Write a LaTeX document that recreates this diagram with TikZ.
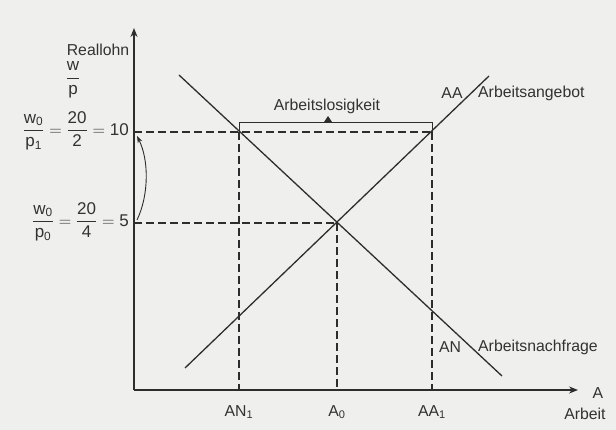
\documentclass[tikz,border=0pt]{standalone}
\usepackage{amsmath}
\usepackage{fontspec}
\setmainfont{Liberation Sans}
\usetikzlibrary{arrows.meta,calc}
\definecolor{bgc}{RGB}{239,239,237}
\definecolor{ink}{RGB}{45,45,45}
\definecolor{txt}{RGB}{50,50,50}
\newcommand\myfr[2]{\dfrac{\text{#1}}{\text{#2}}}
\tikzset{
  lbl/.style={inner sep=0pt, text=txt, font=\fontsize{15.8}{18}\selectfont},
  eqlbl/.style={inner sep=0pt, text=txt, font=\fontsize{17}{19}\selectfont},
  axisln/.style={draw=ink, line width=1.4pt, -{Stealth[length=9pt,width=7pt]}},
  curveln/.style={draw=ink, line width=1.3pt},
  dashln/.style={draw=ink, line width=1.3pt, dash pattern=on 8pt off 4pt},
  thinln/.style={draw=ink, line width=0.9pt},
}
\begin{document}
\begin{tikzpicture}[x=1pt,y=-1pt]
\fill[bgc] (0,0) rectangle (616,430);
\useasboundingbox (0,0) rectangle (616,430);
% coordinates
\coordinate (O) at (134,390);
\coordinate (Ytop) at (134,28);
\coordinate (Xend) at (578,390);
\coordinate (AAlo) at (185,368);
\coordinate (AAhi) at (489,76);
\coordinate (ANhi) at (179,75);
\coordinate (ANlo) at (502,376);
\coordinate (P1) at (239,132);
\coordinate (P2) at (432,132);
\coordinate (E) at (337,223);
\coordinate (Y10) at (134,132);
\coordinate (Y5) at (134,223);
\coordinate (X1) at (239,390);
\coordinate (X0) at (337,390);
\coordinate (X2) at (432,390);
\coordinate (B1) at (239,122);
\coordinate (B2) at (432,122);
\coordinate (T) at (328,122);
\coordinate (C1) at (137,220);
\coordinate (C2) at (137,136);
% dashed guides
\draw[dashln] (Y10) -- (P2);
\draw[dashln] (Y5) -- (E);
\draw[dashln] (P1) -- (X1);
\draw[dashln] (E) -- (X0);
\draw[dashln] (P2) -- (X2);
% bracket
\draw[thinln] (P1) -- (B1) -- (B2) -- (P2);
\fill[ink] ($(T)+(-4,0)$) -- ($(T)+(4,0)$) -- ($(T)+(0,-6)$) -- cycle;
% curves
\draw[curveln] (AAlo) -- (AAhi);
\draw[curveln] (ANhi) -- (ANlo);
% axes
\draw[axisln] (O) -- (Ytop);
\draw[axisln] (O) -- (Xend);
% curved arrow
\draw[draw=ink, line width=0.9pt, -{Stealth[length=7pt,width=5pt]}] (C1) .. controls (149,195) and (149,160) .. (C2);
% labels
\node[lbl] (reallohn) at (98,50) {Reallohn};
\node[eqlbl] (wp) at (73,80) {$\myfr{w}{p}$};
\node[eqlbl, anchor=east] (l10) at (129,131) {$\myfr{w\textsubscript{0}}{p\textsubscript{1}} = \myfr{20}{2} = \text{10}$};
\node[eqlbl, anchor=east] (l5) at (129,222) {$\myfr{w\textsubscript{0}}{p\textsubscript{0}} = \myfr{20}{4} = \text{5}$};
\node[lbl] (al) at (327,106) {Arbeitslosigkeit};
\node[lbl] (aa) at (452,93) {AA};
\node[lbl, anchor=west] (aab) at (478,93) {Arbeitsangebot};
\node[lbl] (an) at (450,347) {AN};
\node[lbl, anchor=west] (anf) at (478,347) {Arbeitsnachfrage};
\node[lbl] (an1) at (239,412) {AN\textsubscript{1}};
\node[lbl] (a0) at (337,412) {A\textsubscript{0}};
\node[lbl] (aa1) at (432,412) {AA\textsubscript{1}};
\node[lbl] (ax) at (598,393) {A};
\node[lbl] (arb) at (585,414) {Arbeit};
\end{tikzpicture}
\end{document}
